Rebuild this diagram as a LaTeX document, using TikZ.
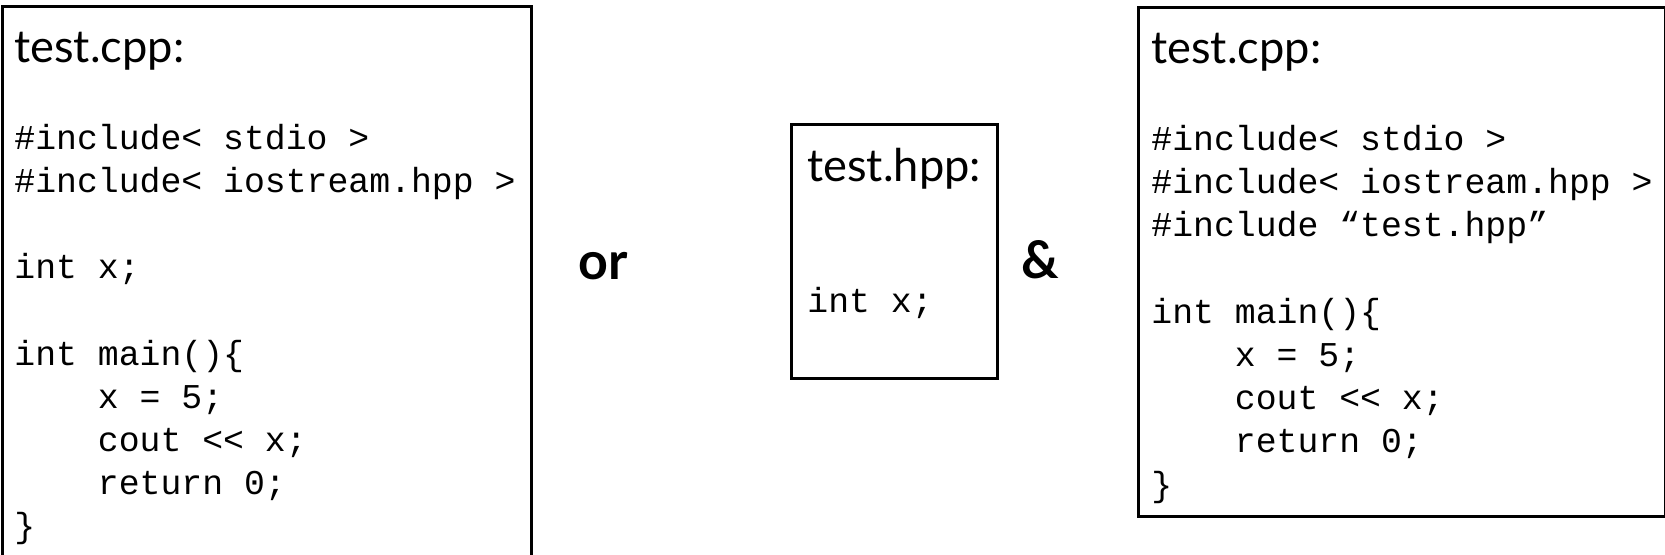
\documentclass[tikz,border=0pt]{standalone}
\usepackage{fontspec}
\setmainfont{Lato}
\newfontfamily\codefont{Liberation Mono}
\tikzset{filebox/.style = {draw, line width=1.3pt, inner sep=0pt, anchor=north west}}
\tikzset{filetitle/.style = {inner sep=0pt, anchor=base west, font=\fontsize{22.6}{26}\selectfont}}
\tikzset{code/.style = {inner sep=0pt, anchor=base west, align=left, font=\codefont\fontsize{17.4}{21.6}\selectfont}}
\tikzset{joiner/.style = {inner sep=0pt, anchor=base, font=\bfseries\fontsize{26}{30}\selectfont}}
\newcommand{\ind}{\phantom{0000}}

\begin{document}
\begin{tikzpicture}[x=0.5pt,y=-0.5pt]
            \useasboundingbox (0,0) rectangle (1665,555);

            % Files
            \node[filebox, minimum width=264.5pt, minimum height=280pt] (cppone) at (1,5) {};
            \node[filebox, minimum width=103pt, minimum height=127pt] (hpp) at (790,123) {};
            \node[filebox, minimum width=263.5pt, minimum height=254.5pt] (cpptwo) at (1137,6) {};

            % Titles
            \node[filetitle] (cpponetitle) at (14,63) {test.cpp:};
            \node[filetitle] (hpptitle) at (807,182) {test.hpp:};
            \node[filetitle] (cpptwotitle) at (1151,64) {test.cpp:};

            % Code (anchored at the baseline of the last line)
            \node[code] (cpponecode) at (14,538) {\#include< stdio >\\
                \#include< iostream.hpp >\\[21.6pt]
                int x;\\[21.6pt]
                int main()\{\\
                \ind x = 5;\\
                \ind cout << x;\\
                \ind return 0;\\
                \}};
            \node[code] (hppcode) at (807,313) {int x;};
            \node[code] (cpptwocode) at (1151,496) {\#include< stdio >\\
                \#include< iostream.hpp >\\
                \#include “test.hpp”\\[21.6pt]
                int main()\{\\
                \ind x = 5;\\
                \ind cout << x;\\
                \ind return 0;\\
                \}};

            % Joiners
            \node[joiner] (or) at (603,280) {or};
            \node[joiner] (and) at (1040,279) {\&};
        \end{tikzpicture}
\end{document}
